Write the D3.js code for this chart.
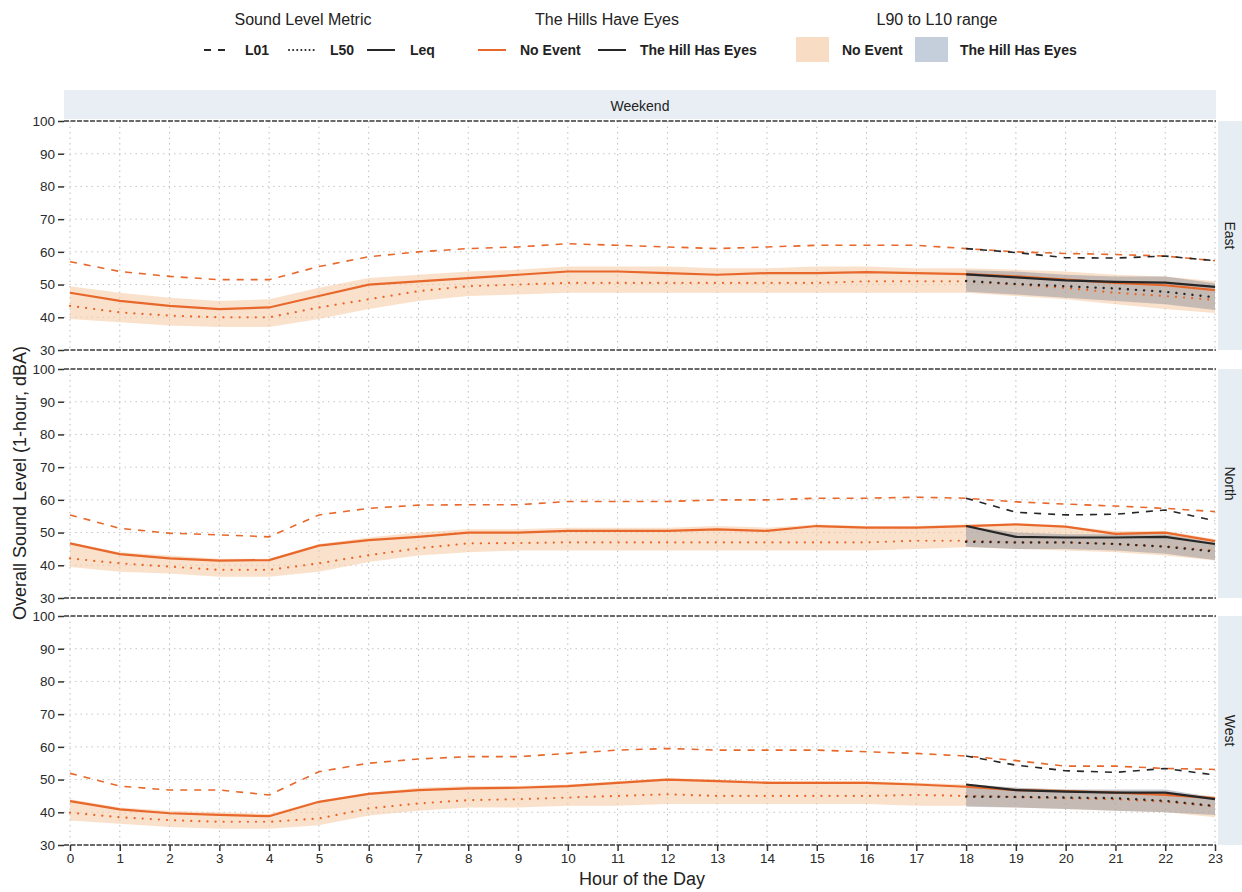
<!DOCTYPE html>
<html>
<head>
<meta charset="utf-8">
<script src="https://cdn.jsdelivr.net/npm/d3@7"></script>
<style>
  body { margin: 0; background: #fff; }
  text { font-family: "Liberation Sans", Arial, sans-serif; }
</style>
</head>
<body>
<div id="chart"></div>
<script>
// hours and panels
var hours = d3.range(0, 24);
var sites = ["East", "North", "West"];
var yTicks = [30, 40, 50, 60, 70, 80, 90, 100];
var eventHours = [18, 19, 20, 21, 22, 23];

// No Event series (hour 0..23)
var eastL01 = [57, 54, 52.5, 51.5, 51.5, 55.5, 58.5, 60, 61, 61.5, 62.5, 62, 61.5, 61, 61.5, 62, 62, 62, 61, 60, 59.5, 59.2, 58.7, 57.3];
var eastLeq = [47.5, 45, 43.5, 42.5, 43, 46.5, 50, 51, 52, 53, 54, 54, 53.5, 53, 53.5, 53.5, 53.8, 53.5, 53.2, 52.5, 51.5, 50.5, 49.8, 48.3];
var eastL50 = [43.5, 41.5, 40.5, 40, 40, 43, 45.5, 48, 49.5, 50, 50.5, 50.5, 50.5, 50.5, 50.5, 50.5, 51, 51, 51, 50, 49, 47.5, 46.5, 45.3];
var eastL10 = [49.5, 47.5, 46, 45, 45.5, 49, 52, 53, 54, 54.5, 55.5, 55.5, 55.5, 55, 55, 55.5, 55.5, 55, 55, 54.5, 54, 53, 52.5, 51];
var eastL90 = [39.5, 38.5, 37.5, 37, 37, 39.5, 42.5, 45, 46.5, 47, 47.5, 47.5, 47.5, 47.5, 47.5, 47.5, 47.5, 47.5, 47.5, 46.5, 45.5, 44, 42.5, 41.3];

var northL01 = [55.4, 51.3, 49.8, 49.3, 48.7, 55.4, 57.4, 58.4, 58.5, 58.5, 59.5, 59.5, 59.5, 60, 60, 60.5, 60.5, 60.8, 60.5, 59.4, 58.7, 58.1, 57.4, 56.4];
var northLeq = [46.7, 43.4, 42.1, 41.4, 41.6, 46, 47.7, 48.7, 50, 50, 50.5, 50.5, 50.5, 51, 50.5, 52, 51.5, 51.5, 52, 52.5, 51.8, 49.6, 50, 47.4];
var northL50 = [42.1, 40.6, 39.6, 38.6, 38.6, 40.6, 43.1, 45.2, 46.7, 46.8, 47, 47, 47, 47, 47, 47, 47, 47.5, 47.5, 47, 47, 46.5, 45.7, 44.5];
var northL10 = [47, 44, 43, 42, 42, 46.5, 48.5, 50, 51, 51, 51.5, 51.5, 51.5, 52, 51.5, 52.5, 52, 52, 52.5, 52.5, 52, 50.5, 50.5, 48];
var northL90 = [39.5, 38, 37.5, 36.5, 36.5, 38, 41, 43, 44, 44.5, 44.5, 44.5, 44.5, 44.5, 44.5, 44.5, 44.5, 45, 45.5, 45, 44.5, 44, 43, 41.5];

var westL01 = [51.9, 48, 46.8, 46.8, 45.3, 52.4, 55, 56.3, 57, 57, 58, 59, 59.5, 59, 59, 59, 58.5, 58, 57.2, 55.8, 54.1, 54.1, 53.4, 53.1];
var westLeq = [43.4, 40.9, 39.7, 39.2, 38.8, 43.2, 45.6, 46.8, 47.3, 47.5, 48, 49, 50, 49.5, 49, 49, 49, 48.5, 47.8, 46.8, 46.5, 46, 45.3, 44.3];
var westL50 = [39.9, 38.5, 37.6, 37.1, 37.1, 38.1, 41.2, 42.7, 43.7, 44, 44.5, 45, 45.5, 45, 45, 45, 45, 45.3, 45, 44.7, 44.3, 44, 43.2, 41.8];
var westL10 = [44, 41.5, 40.5, 40, 39.5, 43.5, 46, 47.5, 48, 48, 48.5, 49.5, 50.5, 50, 49.5, 49.5, 49.5, 49, 48.5, 47.5, 47, 46.5, 46, 45];
var westL90 = [37.5, 36.5, 35.5, 35, 35, 36, 39, 40.5, 41.5, 41.5, 42, 42, 42.5, 42.5, 42.5, 42.5, 42.5, 42, 42, 41.5, 41, 40.5, 40, 38.5];

// The Hill Has Eyes series (hour 18..23)
var eastEvL01 = [61, 59.8, 58.2, 58.1, 58.7, 57.3];
var eastEvLeq = [53.1, 52.2, 51.3, 50.8, 50.6, 49.3];
var eastEvL50 = [51.1, 50.2, 49.5, 48.8, 47.8, 46.1];
var eastEvL10 = [54.4, 54, 53, 52.5, 52.5, 50.4];
var eastEvL90 = [47.8, 47, 46, 45, 44, 42.2];

var northEvL01 = [60.5, 56.2, 55.4, 55.6, 56.9, 53.6];
var northEvLeq = [52, 48.7, 48.5, 48.5, 48.7, 46.5];
var northEvL50 = [47.2, 47, 47, 46.5, 45.7, 44.2];
var northEvL10 = [52, 50, 49.5, 49.5, 49.5, 47];
var northEvL90 = [45.7, 45, 45, 44.5, 43.5, 41.6];

var westEvL01 = [57.2, 54.4, 52.7, 52.2, 53.4, 51.4];
var westEvLeq = [48.5, 46.8, 46.3, 46, 46, 44];
var westEvL50 = [44.8, 44.7, 44.5, 44.3, 43.5, 41.9];
var westEvL10 = [48.7, 47.5, 47, 47, 47, 44.5];
var westEvL90 = [41.7, 41.5, 41, 40.5, 40, 39.2];

var noEvent = {
  East: {l01: eastL01, leq: eastLeq, l50: eastL50, l10: eastL10, l90: eastL90},
  North: {l01: northL01, leq: northLeq, l50: northL50, l10: northL10, l90: northL90},
  West: {l01: westL01, leq: westLeq, l50: westL50, l10: westL10, l90: westL90}
};
var withEvent = {
  East: {l01: eastEvL01, leq: eastEvLeq, l50: eastEvL50, l10: eastEvL10, l90: eastEvL90},
  North: {l01: northEvL01, leq: northEvLeq, l50: northEvL50, l10: northEvL10, l90: northEvL90},
  West: {l01: westEvL01, leq: westEvLeq, l50: westEvL50, l10: westEvL10, l90: westEvL90}
};

var W = 1242, H = 892;
var orange = "#e8672a", dark = "#262626";
var panelLeft = 64, panelRight = 1216;
var panelTops = [121, 369, 616];
var panelH = 229;

var svg = d3.select("#chart").append("svg").attr("width", W).attr("height", H);

var x = d3.scaleLinear().domain([0, 23]).range([70, 1215]);

// top strip
svg.append("rect").attr("x", panelLeft).attr("y", 90).attr("width", panelRight - panelLeft).attr("height", 29)
  .attr("fill", "#e9eef5");
svg.append("text").attr("x", (panelLeft + panelRight) / 2).attr("y", 111).attr("text-anchor", "middle")
  .attr("font-size", 14).attr("fill", "#222").text("Weekend");

var dashMap = {l01: "7,7", l50: "0.1,8", leq: null};

sites.forEach(function(site, i) {
  var top = panelTops[i];
  var y = d3.scaleLinear().domain([30, 100]).range([top + panelH, top]);
  var g = svg.append("g");

  // right strip
  g.append("rect").attr("x", panelRight + 2).attr("y", top).attr("width", W - panelRight - 2).attr("height", panelH)
    .attr("fill", "#e6edf3");
  g.append("text").attr("transform", "translate(" + (panelRight + 9) + "," + (top + panelH / 2) + ") rotate(90)")
    .attr("text-anchor", "middle").attr("font-size", 14).attr("fill", "#222").text(site);

  // grid
  g.selectAll(".vg").data(hours).enter().append("line")
    .attr("x1", function(d) { return x(d); }).attr("x2", function(d) { return x(d); })
    .attr("y1", top).attr("y2", top + panelH)
    .attr("stroke", "#bdbdbd").attr("stroke-width", 1).attr("stroke-dasharray", "1.5,4");
  g.selectAll(".hg").data([40, 50, 60, 70, 80, 90]).enter().append("line")
    .attr("x1", panelLeft).attr("x2", panelRight)
    .attr("y1", function(d) { return y(d); }).attr("y2", function(d) { return y(d); })
    .attr("stroke", "#c6c6c6").attr("stroke-width", 1).attr("stroke-dasharray", "1.5,4");
  g.selectAll(".bd").data([30, 100]).enter().append("line")
    .attr("x1", panelLeft).attr("x2", panelRight)
    .attr("y1", function(d) { return y(d); }).attr("y2", function(d) { return y(d); })
    .attr("stroke", "#3a3a3a").attr("stroke-width", 1.3).attr("stroke-dasharray", "5,1.5");

  // y axis
  var yAxis = g.append("g").attr("transform", "translate(" + (panelLeft) + ",0)")
    .call(d3.axisLeft(y).tickValues(yTicks).tickSize(6).tickPadding(3));
  yAxis.select(".domain").remove();
  yAxis.selectAll("line").attr("stroke", "#333").attr("stroke-width", 1.5);
  yAxis.selectAll("text").attr("font-size", 13.5).attr("fill", "#2a2a2a")
    .style("font-family", "'Liberation Sans', Arial, sans-serif");

  // bands
  var ne = noEvent[site], ev = withEvent[site];
  var area = d3.area().x(function(d) { return x(d.h); })
    .y0(function(d) { return y(d.lo); }).y1(function(d) { return y(d.hi); });
  g.append("path").datum(hours.map(function(h, k) { return {h: h, lo: ne.l90[k], hi: ne.l10[k]}; }))
    .attr("d", area).attr("fill", "#f6c9a2").attr("fill-opacity", 0.55);
  g.append("path").datum(eventHours.map(function(h, k) { return {h: h, lo: ev.l90[k], hi: ev.l10[k]}; }))
    .attr("d", area).attr("fill", "#7d8594").attr("fill-opacity", 0.42);

  var line = d3.line().x(function(d) { return x(d.h); }).y(function(d) { return y(d.v); });
  ["l01", "l50", "leq"].forEach(function(m) {
    g.append("path").datum(hours.map(function(h, k) { return {h: h, v: ne[m][k]}; }))
      .attr("d", line).attr("fill", "none").attr("stroke", orange)
      .attr("stroke-width", m == "leq" ? 2.2 : (m == "l50" ? 2.2 : 1.6))
      .attr("stroke-linecap", m == "l50" ? "round" : "butt")
      .attr("stroke-dasharray", dashMap[m]);
  });
  ["l01", "l50", "leq"].forEach(function(m) {
    g.append("path").datum(eventHours.map(function(h, k) { return {h: h, v: ev[m][k]}; }))
      .attr("d", line).attr("fill", "none").attr("stroke", dark)
      .attr("stroke-width", m == "leq" ? 2.2 : (m == "l50" ? 2.4 : 1.6))
      .attr("stroke-linecap", m == "l50" ? "round" : "butt")
      .attr("stroke-dasharray", dashMap[m]);
  });

  // x axis on the bottom panel only
  if (i == sites.length - 1) {
    var xAxis = g.append("g").attr("transform", "translate(0," + (top + panelH) + ")")
      .call(d3.axisBottom(x).tickValues(hours).tickFormat(d3.format("d")).tickSize(6).tickPadding(2));
    xAxis.select(".domain").remove();
    xAxis.selectAll("line").attr("stroke", "#333").attr("stroke-width", 1.5);
    xAxis.selectAll("text").attr("font-size", 13.5).attr("fill", "#2a2a2a")
      .style("font-family", "'Liberation Sans', Arial, sans-serif");
  }
});

// axis titles
svg.append("text").attr("x", (panelLeft + panelRight) / 2 + 2).attr("y", 885).attr("text-anchor", "middle")
  .attr("font-size", 18).attr("fill", "#222").text("Hour of the Day");
svg.append("text").attr("transform", "translate(26,483) rotate(-90)").attr("text-anchor", "middle")
  .attr("font-size", 18).attr("fill", "#222").text("Overall Sound Level (1-hour, dBA)");

// legend
var lg = svg.append("g");
var titles = [{t: "Sound Level Metric", x: 303}, {t: "The Hills Have Eyes", x: 607}, {t: "L90 to L10 range", x: 937}];
lg.selectAll(".lt").data(titles).enter().append("text")
  .attr("x", function(d) { return d.x; }).attr("y", 25).attr("text-anchor", "middle")
  .attr("font-size", 16).attr("fill", "#222").text(function(d) { return d.t; });

var lineKeys = [
  {x: 204, label: "L01", color: dark, dash: "7,7", tx: 245},
  {x: 289, label: "L50", color: dark, dash: "0.1,4", tx: 330},
  {x: 367, label: "Leq", color: dark, dash: null, tx: 410},
  {x: 478, label: "No Event", color: orange, dash: null, tx: 520},
  {x: 598, label: "The Hill Has Eyes", color: dark, dash: null, tx: 640}
];
lineKeys.forEach(function(k) {
  lg.append("line").attr("x1", k.x).attr("x2", k.x + 28).attr("y1", 50).attr("y2", 50)
    .attr("stroke", k.color).attr("stroke-width", 2)
    .attr("stroke-linecap", k.label == "L50" ? "round" : "butt")
    .attr("stroke-dasharray", k.dash);
  lg.append("text").attr("x", k.tx).attr("y", 55).attr("font-size", 14).attr("fill", "#222")
    .attr("font-weight", "bold").text(k.label);
});
var fillKeys = [
  {x: 796, label: "No Event", fill: "#f8dcc4", tx: 842},
  {x: 915, label: "The Hill Has Eyes", fill: "#c5cfdc", tx: 960}
];
fillKeys.forEach(function(k) {
  lg.append("rect").attr("x", k.x).attr("y", 37).attr("width", 33).attr("height", 25).attr("fill", k.fill);
  lg.append("text").attr("x", k.tx).attr("y", 55).attr("font-size", 14).attr("fill", "#222")
    .attr("font-weight", "bold").text(k.label);
});
</script>
</body>
</html>
